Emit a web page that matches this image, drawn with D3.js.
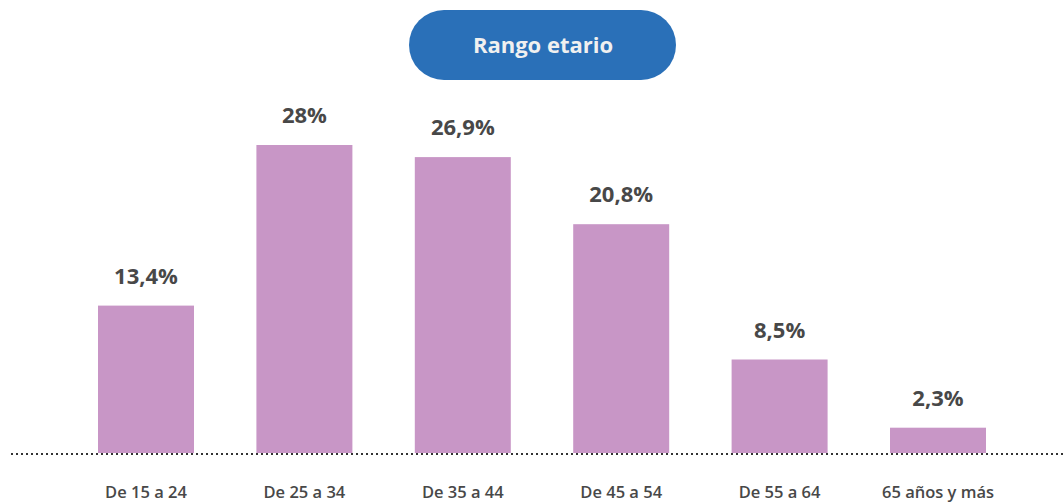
<!DOCTYPE html>
<html><head><meta charset="utf-8">
<script src="https://cdn.jsdelivr.net/npm/d3@7"></script>
<style>
html,body{margin:0;padding:0;background:#fff;}
svg{display:block;}
</style></head>
<body>
<svg id="chart" width="1063" height="502"></svg>
<script>
const title = "Rango etario";
const categories = ["De 15 a 24","De 25 a 34","De 35 a 44","De 45 a 54","De 55 a 64","65 años y más"];
const values = [13.4, 28, 26.9, 20.8, 8.5, 2.3];
const valueLabels = ["13,4%","28%","26,9%","20,8%","8,5%","2,3%"];

const W = 1063, H = 502;
const svg = d3.select("#chart");
const baseY = 453;

const x = d3.scaleBand().domain(categories).range([98, 986]).paddingInner(0.394).paddingOuter(0);
const y = d3.scaleLinear().domain([0, 28]).range([baseY, 145]);

// title pill
const pill = svg.append("g");
pill.append("rect").attr("x", 409).attr("y", 10).attr("width", 267).attr("height", 70)
  .attr("rx", 35).attr("ry", 35).attr("fill", "#2a70b8");
pill.append("text").attr("x", 543).attr("y", 53).attr("text-anchor", "middle")
  .attr("font-family", "'Open Sans', sans-serif").attr("font-weight", 700)
  .attr("font-size", 22).attr("fill", "#f0f0f0").text(title);

// bars
svg.append("g").selectAll("rect").data(categories).join("rect")
  .attr("x", d => x(d)).attr("width", x.bandwidth())
  .attr("y", (d, i) => y(values[i])).attr("height", (d, i) => baseY - y(values[i]))
  .attr("fill", "#c896c6");

// value labels
svg.append("g").selectAll("text").data(categories).join("text")
  .attr("x", d => x(d) + x.bandwidth() / 2)
  .attr("y", (d, i) => y(values[i]) - 22)
  .attr("text-anchor", "middle")
  .attr("font-family", "'Open Sans', sans-serif").attr("font-weight", 700)
  .attr("font-size", 22).attr("fill", "#484848")
  .text((d, i) => valueLabels[i]);

// baseline dotted
svg.append("line").attr("x1", 11).attr("x2", W).attr("y1", baseY + 1).attr("y2", baseY + 1)
  .attr("stroke", "#333").attr("stroke-width", 2).attr("stroke-dasharray", "2,3");

// category axis
const axis = d3.axisBottom(x).tickSize(0).tickPadding(0);
const ag = svg.append("g").attr("transform", `translate(0,${baseY})`).call(axis);
ag.select(".domain").remove();
ag.selectAll("text").attr("dy", null).attr("y", 45)
  .attr("font-family", "'Open Sans', sans-serif").attr("font-weight", 600)
  .attr("font-size", 16.5).attr("fill", "#484848");
</script>
</body></html>
